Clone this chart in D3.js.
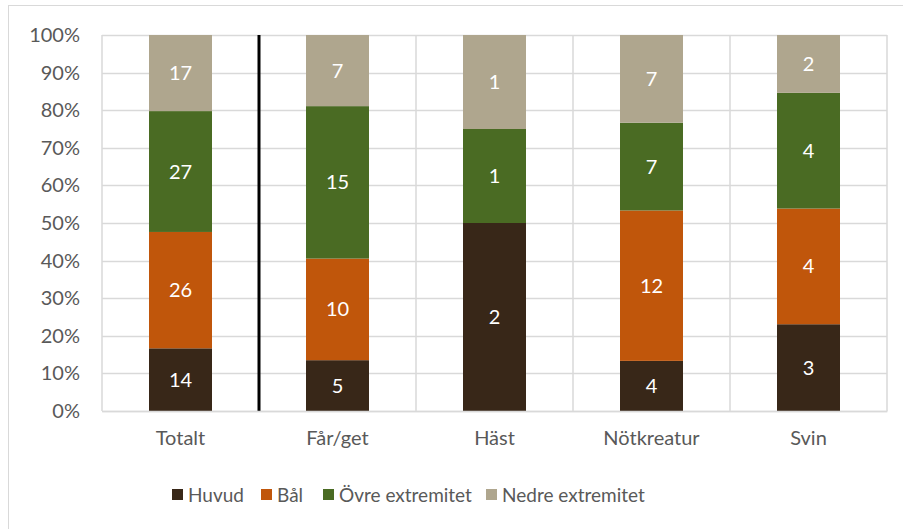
<!DOCTYPE html>
<html>
<head>
<meta charset="utf-8">
<script src="https://cdn.jsdelivr.net/npm/d3@7"></script>
<style>
  body { margin: 0; background: #fff; }
  svg { display: block; font-family: Lato, "Open Sans", sans-serif; }
</style>
</head>
<body>
<div id="chart"></div>
<script>
const categories = ["Totalt", "Får/get", "Häst", "Nötkreatur", "Svin"];
const seriesNames = ["Huvud", "Bål", "Övre extremitet", "Nedre extremitet"];
const huvud = [14, 5, 2, 4, 3];
const bal = [26, 10, 0, 12, 4];
const ovre = [27, 15, 1, 7, 4];
const nedre = [17, 7, 1, 7, 2];
const yTicks = [0, 0.1, 0.2, 0.3, 0.4, 0.5, 0.6, 0.7, 0.8, 0.9, 1];
const colors = ["#382718", "#c0560b", "#4a6b23", "#afa68e"];

const width = 903, height = 529;
const margin = { top: 35, right: 16, bottom: 118, left: 102 };
const innerW = width - margin.left - margin.right;
const innerH = height - margin.top - margin.bottom;
const fontSize = 20;

const rows = categories.map((c, i) => ({
  cat: c, Huvud: huvud[i], "Bål": bal[i], "Övre extremitet": ovre[i], "Nedre extremitet": nedre[i]
}));

const stacked = d3.stack().keys(seriesNames).offset(d3.stackOffsetExpand)(rows);

const svg = d3.select("#chart").append("svg")
  .attr("width", width)
  .attr("height", height);

// chart frame
svg.append("rect")
  .attr("x", 8.5).attr("y", 5.5)
  .attr("width", width).attr("height", height)
  .attr("fill", "none")
  .attr("stroke", "#d9d9d9");

const g = svg.append("g")
  .attr("transform", `translate(${margin.left},${margin.top})`);

const x = d3.scaleBand().domain(categories).range([0, innerW]).paddingInner(0).paddingOuter(0);
const y = d3.scaleLinear().domain([0, 1]).range([innerH, 0]);
const barW = 63;

// horizontal gridlines
g.append("g").selectAll("line").data(yTicks).join("line")
  .attr("x1", 0).attr("x2", innerW)
  .attr("y1", d => Math.round(y(d)) + 0.5).attr("y2", d => Math.round(y(d)) + 0.5)
  .attr("stroke", "#d9d9d9").attr("stroke-width", 1.5);

// vertical gridlines at category boundaries
const bounds = categories.map(c => x(c)).concat([innerW]);
g.append("g").selectAll("line").data(bounds).join("line")
  .attr("x1", d => d).attr("x2", d => d)
  .attr("y1", 0).attr("y2", innerH)
  .attr("stroke", "#d9d9d9").attr("stroke-width", 1.5);

// separator after Totalt
g.append("line")
  .attr("x1", x("Får/get")).attr("x2", x("Får/get"))
  .attr("y1", 0).attr("y2", innerH)
  .attr("stroke", "#000").attr("stroke-width", 3);

// bars
const layers = g.append("g").selectAll("g").data(stacked).join("g")
  .attr("fill", (d, i) => colors[i]);

layers.selectAll("rect").data(d => d).join("rect")
  .attr("x", d => x(d.data.cat) + x.bandwidth() / 2 - barW / 2)
  .attr("width", barW)
  .attr("y", d => y(d[1]))
  .attr("height", d => y(d[0]) - y(d[1]));

// value labels
stacked.forEach((layer, si) => {
  g.append("g").selectAll("text").data(layer.filter(d => d.data[layer.key] > 0)).join("text")
    .attr("x", d => x(d.data.cat) + x.bandwidth() / 2)
    .attr("y", d => (y(d[0]) + y(d[1])) / 2)
    .attr("dy", "0.35em")
    .attr("text-anchor", "middle")
    .attr("fill", "#fff")
    .attr("font-size", fontSize)
    .text(d => d.data[layer.key]);
});

// y axis
const yAxis = g.append("g")
  .call(d3.axisLeft(y).tickValues(yTicks).tickFormat(d3.format(".0%")).tickSize(0).tickPadding(22));
yAxis.select(".domain").remove();
yAxis.selectAll("text").attr("font-size", fontSize).attr("fill", "#595959").attr("font-family", "Lato, sans-serif");

// x axis
const xAxis = g.append("g")
  .attr("transform", `translate(0,${innerH})`)
  .call(d3.axisBottom(x).tickSize(0).tickPadding(20));
xAxis.select(".domain").attr("stroke", "#d9d9d9").attr("stroke-width", 1.5);
xAxis.selectAll("text").attr("font-size", fontSize).attr("fill", "#595959").attr("font-family", "Lato, sans-serif");

// legend
const legendX = [172, 261, 323, 486];
const legend = svg.append("g").attr("transform", "translate(0,495)");
seriesNames.forEach((name, i) => {
  const item = legend.append("g").attr("transform", `translate(${legendX[i]},0)`);
  item.append("rect").attr("x", 0).attr("y", -6).attr("width", 11).attr("height", 11).attr("fill", colors[i]);
  item.append("text").attr("x", 16).attr("y", 0).attr("dy", "0.35em")
    .attr("font-size", 19).attr("fill", "#595959").text(name);
});
</script>
</body>
</html>
